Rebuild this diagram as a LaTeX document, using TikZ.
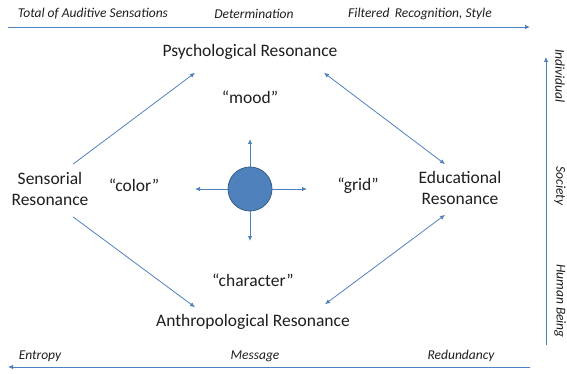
\documentclass[tikz,border=0pt]{standalone}
\usepackage{fontspec}
\setmainfont{Carlito}
\usetikzlibrary{arrows.meta}
\definecolor{lineblue}{RGB}{79,129,189}
\definecolor{hubedge}{RGB}{56,93,138}
\definecolor{textgray}{RGB}{30,30,30}

\begin{document}
\begin{tikzpicture}[
    % pixel coordinates, y downward
    x=1pt, y=-1pt,
    % arrows
    conn/.style={draw=lineblue, line width=0.8pt, -{Latex[length=5pt,width=4.5pt]}},
    twoway/.style={conn, {Latex[length=5pt,width=4.5pt]}-{Latex[length=5pt,width=4.5pt]}},
    % big labels
    reso/.style={align=center, text=textgray, font=\fontsize{17.5}{21}\selectfont, inner sep=0pt},
    % quoted words
    quote/.style={text=textgray, font=\fontsize{17.5}{20}\selectfont, inner sep=0pt},
    % axis labels
    axis/.style={text=textgray, font=\fontsize{13.5}{15}\selectfont\itshape, inner sep=0pt}
  ]

  \useasboundingbox (0,0) rectangle (567,374);

  % Top axis
  \coordinate (topL) at (8,27);
  \coordinate (topR) at (530,27);
  \draw[conn] (topL) -- (topR);
  \node[axis] (total) at (93,14) {Total of Auditive Sensations};
  \node[axis] (determ) at (254,14) {Determination};
  \node[axis] (filter) at (420,14) {Filtered\, Recognition, Style};

  % Bottom axis
  \coordinate (botR) at (530,367);
  \coordinate (botL) at (8,367);
  \draw[conn] (botR) -- (botL);
  \node[axis] (entropy) at (40,356) {Entropy};
  \node[axis] (message) at (255,356) {Message};
  \node[axis] (redund) at (461,356) {Redundancy};

  % Right axis
  \coordinate (rgtB) at (546,345);
  \coordinate (rgtT) at (546,57);
  \draw[conn] (rgtB) -- (rgtT);
  \node[axis, rotate=-90] (indiv) at (560,76) {Individual};
  \node[axis, rotate=-90] (society) at (560,186) {Society};
  \node[axis, rotate=-90] (human) at (560,301) {Human Being};

  % Four resonances
  \node[reso] (psy) at (250,52) {Psychological Resonance};
  \node[reso] (sens) at (50,189) {Sensorial\\Resonance};
  \node[reso] (edu) at (460,188) {Educational\\Resonance};
  \node[reso] (anth) at (253,322) {Anthropological Resonance};

  % Quoted words
  \node[quote] (mood) at (250,97) {``mood''};
  \node[quote] (color) at (134,185) {``color''};
  \node[quote] (grid) at (358,186) {``grid''};
  \node[quote] (charac) at (253,280) {``character''};

  % Diagonal connectors
  \draw[conn] ([xshift=23pt,yshift=8pt]sens.north) -- ([xshift=-55pt,yshift=-13pt]psy.south);
  \draw[twoway] ([xshift=74pt,yshift=-13pt]psy.south) -- ([xshift=-15pt,yshift=7pt]edu.north);
  \draw[conn] ([xshift=23pt,yshift=-11pt]sens.south) -- ([xshift=-58pt,yshift=7pt]anth.north);
  \draw[twoway] ([xshift=72pt,yshift=10pt]anth.north) -- ([xshift=-15pt,yshift=-10pt]edu.south);

  % Central hub
  \node[circle, fill=lineblue, draw=hubedge, line width=0.8pt, minimum size=44pt, inner sep=0pt] (hub) at (250,189) {};
  \coordinate (hubU) at (250,139);
  \coordinate (hubD) at (250,241);
  \coordinate (hubL) at (195,189);
  \coordinate (hubR) at (307,189);
  \draw[conn] (hub.north) -- (hubU);
  \draw[conn] (hub.south) -- (hubD);
  \draw[conn] (hub.west) -- (hubL);
  \draw[conn] (hub.east) -- (hubR);

\end{tikzpicture}
\end{document}
